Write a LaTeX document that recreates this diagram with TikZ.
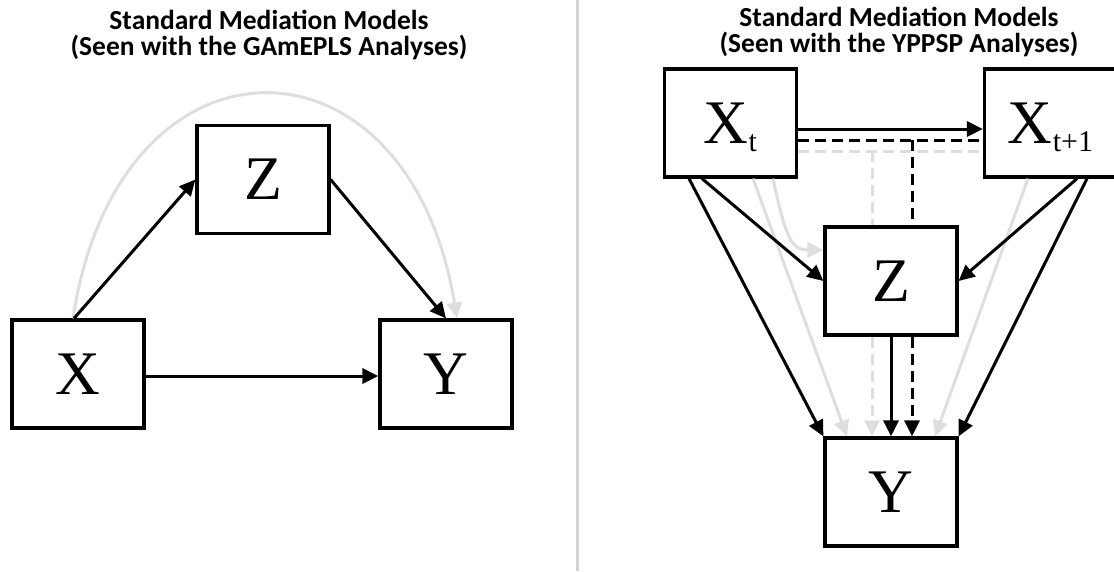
\documentclass[tikz,border=0pt]{standalone}
\usepackage{fontspec}
\setmainfont{Liberation Serif}
\newfontfamily\titlefont{Carlito}
\usetikzlibrary{arrows.meta,calc}

\definecolor{paleline}{RGB}{222,222,222}
\definecolor{divider}{RGB}{212,212,212}

% subscript set low beside a capital
\newcommand{\sub}[1]{\smash{\raisebox{-8pt}{\fontsize{30}{30}\selectfont #1}}}

\tikzset{
	var/.style={draw, line width=3.2pt, minimum width=132pt, minimum height=108pt, inner sep=0pt, font=\fontsize{62}{62}\selectfont},
	heading/.style={align=center, font=\titlefont\bfseries\fontsize{27.5}{26.5}\selectfont},
	path/.style={line width=3pt, -{Triangle[length=16pt,width=15pt]}},
	pale/.style={path, paleline},
	link/.style={line width=3pt, dash pattern=on 11pt off 6pt}
}

\begin{document}
\begin{tikzpicture}[x=1pt, y=-1pt]
	\useasboundingbox (0,0) rectangle (1114,571);
	
	%divider
	\draw[divider, line width=3pt] (577.5,0)--(577.5,571);
	
	%headings
	\node[heading] (h1) at (269,35) {Standard Mediation Models\\(Seen with the GAmEPLS Analyses)};
	\node[heading] (h2) at (899,32) {Standard Mediation Models\\(Seen with the YPPSP Analyses)};
	
	%left model
	\node[var] (X) at (78,374) {X};
	\node[var] (Y) at (446,374) {Y};
	\node[var] (Z) at (263,179.5) {Z};
	
	\draw[pale] ([xshift=-5pt]X.north) .. controls (118,20) and (408,20) .. ([xshift=11pt]Y.north);
	\draw[path] ([xshift=-4pt]X.north)--(Z.west);
	\draw[path] (Z.east)--(Y.north);
	\draw[path] ([yshift=-2pt]X.east)--([yshift=-2pt]Y.west);
	
	%right model
	\node[var] (Xt) at (730.5,123) {X\sub{t}};
	\node[var] (Xn) at (1050.5,123) {X\sub{t+1}};
	\node[var] (Zr) at (891,281) {Z};
	\node[var] (Yr) at (891,492) {Y};
	
	%pale paths
	\draw[pale] ([xshift=22.5pt]Xt.south)--([xshift=-44pt]Yr.north);
	\draw[pale] ([xshift=42.5pt]Xt.south) .. controls (786,240) and (792,250) .. ([yshift=31pt]Zr.west);
	\draw[pale] ([xshift=-22.5pt]Xn.south)--([xshift=44pt]Yr.north);
	\draw[link, paleline] ([yshift=-28pt]Xt.east)--([yshift=-28pt]Xn.west);
	\draw[link, paleline] (872,151)--([xshift=-19pt]Zr.north);
	\draw[link, paleline, -{Triangle[length=16pt,width=15pt]}] ([xshift=-19pt]Zr.south)--([xshift=-19pt]Yr.north);
	
	%black paths
	\draw[path] ([yshift=-6pt]Xt.east)--([yshift=-6pt]Xn.west);
	\draw[link] ([yshift=-17pt]Xt.east)--([yshift=-17pt]Xn.west);
	\draw[link] (912,140)--([xshift=21pt]Zr.north);
	\draw[path] ([xshift=-28.5pt]Xt.south)--(Zr.west);
	\draw[path] ([xshift=-41.5pt]Xt.south)--(Yr.north west);
	\draw[path] ([xshift=26.5pt]Xn.south)--(Zr.east);
	\draw[path] ([xshift=36.5pt]Xn.south)--(Yr.north east);
	\draw[path] (Zr.south)--(Yr.north);
	\draw[link, -{Triangle[length=16pt,width=15pt]}] ([xshift=21pt]Zr.south)--([xshift=21pt]Yr.north);
\end{tikzpicture}
\end{document}
